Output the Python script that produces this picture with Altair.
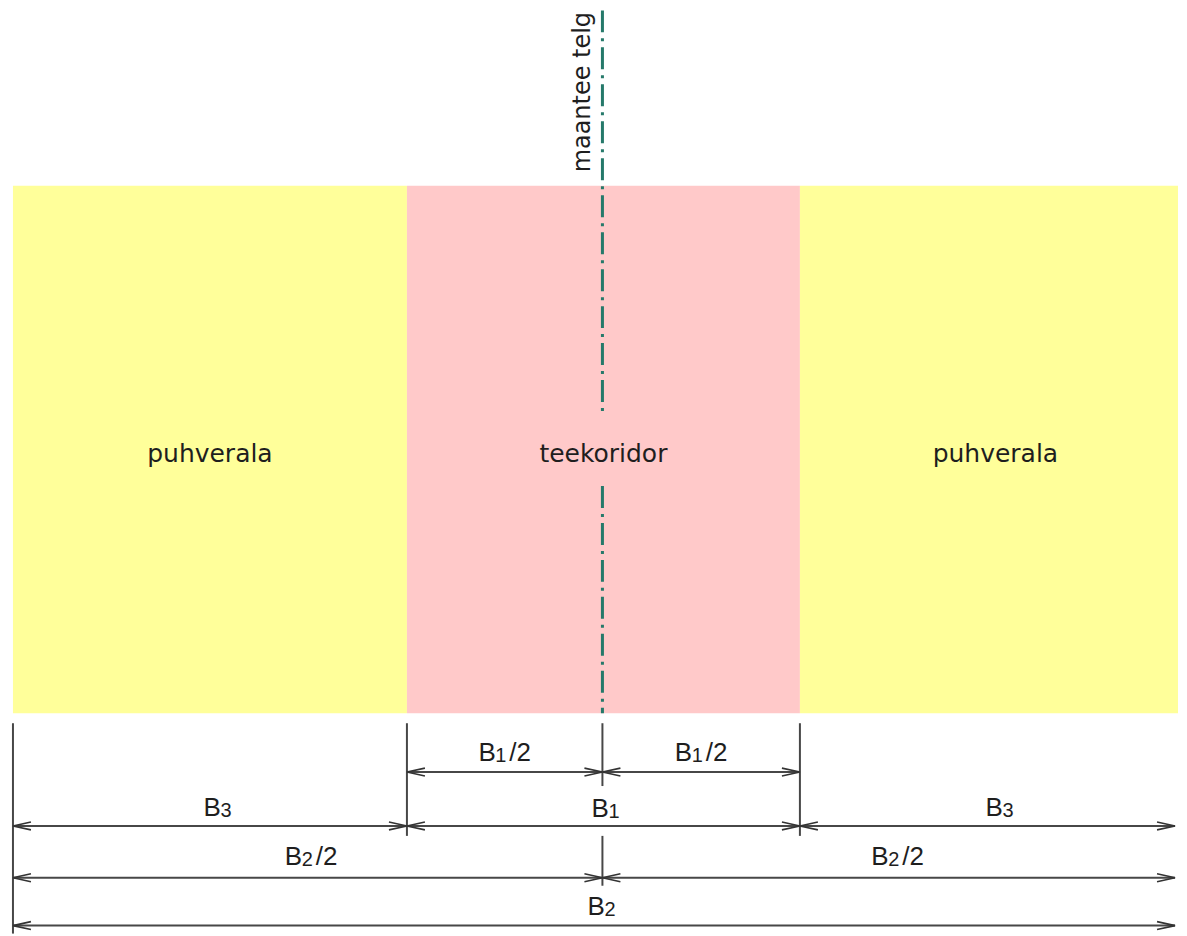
import altair as alt
import pandas as pd

# ---- diagram values (diagram units) ----
zone_names = ["puhverala", "teekoridor", "puhverala"]
zone_left = [13, 410, 806]
zone_right = [410, 806, 1187]
zone_colors = ["#FFFF9A", "#FFC9C9", "#FFFF9A"]
zone_top = 186
zone_bottom = 715
zone_label_y = 455

axis_x = 607                      # road centre line
axis_segments_y1 = [10, 487]
axis_segments_y2 = [415, 715]
axis_label = "maantee telg"

ext_x = [13, 410, 607, 607, 806]
ext_y1 = [725, 725, 725, 838, 725]
ext_y2 = [936, 838, 788, 888, 838]

dim_y = [774, 774, 828, 828, 828, 880, 880, 928]
dim_x1 = [410, 607, 13, 410, 806, 13, 607, 13]
dim_x2 = [607, 806, 410, 806, 1184, 607, 1184, 1184]

lab_x = [482, 680, 205, 596, 993, 287, 878, 592]
lab_y = [763, 763, 818, 819, 818, 867, 867, 917]
lab_sub = ["1", "1", "3", "1", "3", "2", "2", "2"]
lab_suffix = ["/2", "/2", "", "", "", "/2", "/2", ""]

# ---- tables ----
zones = pd.DataFrame({
    "name": zone_names, "x": zone_left, "x2": zone_right,
    "y": [zone_top] * 3, "y2": [zone_bottom] * 3, "color": zone_colors,
    "cx": [(a + b) / 2 for a, b in zip(zone_left, [410, 806, 1200])],
    "cy": [zone_label_y] * 3,
})
axis_df = pd.DataFrame({"x": [axis_x] * 2, "y": axis_segments_y1, "y2": axis_segments_y2})
ext_df = pd.DataFrame({"x": ext_x, "y": ext_y1, "y2": ext_y2})
dim_df = pd.DataFrame({"y": dim_y, "x": dim_x1, "x2": dim_x2})
arrows_left = pd.DataFrame({"x": dim_x1, "y": dim_y})
arrows_right = pd.DataFrame({"x": dim_x2, "y": dim_y})
labels = pd.DataFrame({"x": lab_x, "y": lab_y, "main": ["B"] * 8,
                       "sub": lab_sub, "suffix": lab_suffix})
axis_lab = pd.DataFrame({"x": [594], "y": [92], "t": [axis_label]})

xs = alt.Scale(domain=[8, 1187], nice=False, zero=False)
ys = alt.Scale(domain=[8, 928], nice=False, zero=False, reverse=True)


def X(f="x"):
    return alt.X(f"{f}:Q", scale=xs, axis=None)


def Y(f="y"):
    return alt.Y(f"{f}:Q", scale=ys, axis=None)


LINE = "#474747"
TXT = "#1e1e1e"

rects = alt.Chart(zones).mark_rect().encode(
    x=X(), x2="x2:Q", y=Y(), y2="y2:Q",
    color=alt.Color("color:N", scale=None))

zone_text = alt.Chart(zones).mark_text(
    font="DejaVu Sans", fontSize=25, color=TXT, align="center", baseline="middle"
).encode(x=X("cx"), y=Y("cy"), text="name:N")

axis_line = alt.Chart(axis_df).mark_rule(
    color="#25796a", strokeWidth=3, strokeDash=[22, 6, 3, 6]
).encode(x=X(), y=Y(), y2="y2:Q")

axis_text = alt.Chart(axis_lab).mark_text(
    font="DejaVu Sans", fontSize=24, color=TXT, angle=270,
    align="center", baseline="alphabetic"
).encode(x=X(), y=Y(), text="t:N")

ext_lines = alt.Chart(ext_df).mark_rule(color=LINE, strokeWidth=2).encode(
    x=X(), y=Y(), y2="y2:Q")

dim_lines = alt.Chart(dim_df).mark_rule(color=LINE, strokeWidth=2).encode(
    x=X(), x2="x2:Q", y=Y())

ARROW_L = "M1,-0.22L0,0L1,0.22"
ARROW_R = "M-1,-0.22L0,0L-1,0.22"
al = alt.Chart(arrows_left).mark_point(
    shape=ARROW_L, size=1296, filled=False, stroke="#333333", strokeWidth=1.6, opacity=1
).encode(x=X(), y=Y())
ar = alt.Chart(arrows_right).mark_point(
    shape=ARROW_R, size=1296, filled=False, stroke="#333333", strokeWidth=1.6, opacity=1
).encode(x=X(), y=Y())

lab_main = alt.Chart(labels).mark_text(
    font="Liberation Sans", fontSize=26, color=TXT, align="left", baseline="alphabetic"
).encode(x=X(), y=Y(), text="main:N")
lab_sub_t = alt.Chart(labels).mark_text(
    font="Liberation Sans", fontSize=20, color=TXT, align="left", baseline="alphabetic",
    dx=17, dy=1
).encode(x=X(), y=Y(), text="sub:N")
lab_suf = alt.Chart(labels).mark_text(
    font="Liberation Sans", fontSize=26, color=TXT, align="left", baseline="alphabetic",
    dx=31
).encode(x=X(), y=Y(), text="suffix:N")

chart = alt.layer(
    rects, axis_line, zone_text, axis_text, ext_lines, dim_lines, al, ar,
    lab_main, lab_sub_t, lab_suf
).properties(width=1171, height=918, padding=0, background="white").configure_view(stroke=None)

chart.save("out.html", embed_options={"renderer": "svg", "actions": False})
